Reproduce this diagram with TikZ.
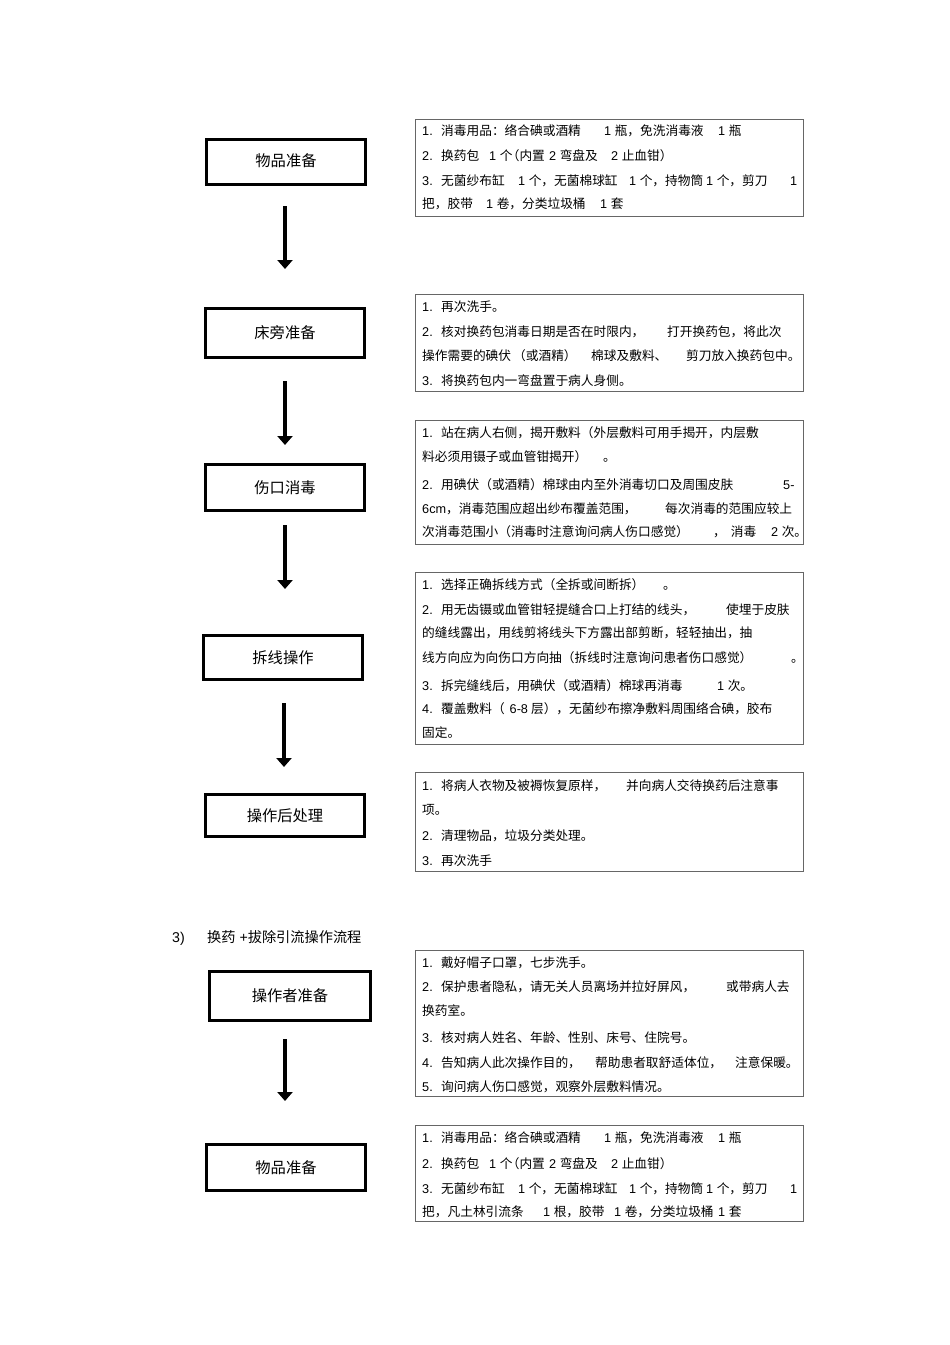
\documentclass[tikz,border=0pt]{standalone}
\usepackage{fontspec}
\setmainfont{Liberation Sans}
\newfontfamily\cjkf{Noto Sans CJK SC}
\XeTeXinterchartokenstate=1
\newXeTeXintercharclass\cjkcls
\newcount\mycc
\mycc="3000 \loop \XeTeXcharclass\mycc=\cjkcls \ifnum\mycc<"303F \advance\mycc 1 \repeat
\mycc="4E00 \loop \XeTeXcharclass\mycc=\cjkcls \ifnum\mycc<"9FFF \advance\mycc 1 \repeat
\mycc="FF00 \loop \XeTeXcharclass\mycc=\cjkcls \ifnum\mycc<"FFEF \advance\mycc 1 \repeat
\XeTeXinterchartoks 0 \cjkcls = {\begingroup\cjkf}
\XeTeXinterchartoks 4095 \cjkcls = {\begingroup\cjkf}
\XeTeXinterchartoks \cjkcls 0 = {\endgroup}
\XeTeXinterchartoks \cjkcls 4095 = {\endgroup}
\usetikzlibrary{arrows.meta}
\newcommand\mkseg[2]{\makebox[#1pt][l]{#2}}
\newcommand\nlp{\makebox[7pt][r]{（}}
\newcommand\nrp{\makebox[7pt][l]{）}}
\begin{document}
\begin{tikzpicture}[x=1pt,y=-1pt,
  lbox/.style={draw=black, line width=3pt, inner sep=0pt, font=\fontsize{15.3}{18}\selectfont},
  rbox/.style={draw=black!60, line width=1.4pt, inner sep=0pt},
  txt/.style={anchor=base west, inner sep=0pt, font=\fontsize{12.7}{15}\selectfont},
  head/.style={anchor=base west, inner sep=0pt, font=\fontsize{14.2}{17}\selectfont},
  arr/.style={line width=4.5pt, -{Triangle[width=15pt,length=9pt]}}]
\useasboundingbox (0,0) rectangle (950,1345);
\fill[white] (0,0) rectangle (950,1345);

% left boxes
\node[lbox, minimum width=159pt, minimum height=45pt] (L1) at (286,162) {\raisebox{3pt}{物品准备}};
\node[lbox, minimum width=159pt, minimum height=49pt] (L2) at (285,333) {床旁准备};
\node[lbox, minimum width=159pt, minimum height=46pt] (L3) at (285,487.5) {伤口消毒};
\node[lbox, minimum width=159pt, minimum height=44pt] (L4) at (283,657.5) {拆线操作};
\node[lbox, minimum width=159pt, minimum height=42pt] (L5) at (285,815.5) {操作后处理};
\node[lbox, minimum width=161pt, minimum height=49pt] (L6) at (290,996) {操作者准备};
\node[lbox, minimum width=159pt, minimum height=46pt] (L7) at (286,1167.5) {物品准备};

% arrows
\coordinate (a1s) at (285,206); \coordinate (a1e) at (285,269);
\coordinate (a2s) at (285,381); \coordinate (a2e) at (285,445);
\coordinate (a3s) at (285,525); \coordinate (a3e) at (285,589);
\coordinate (a4s) at (284,703); \coordinate (a4e) at (284,767);
\coordinate (a5s) at (285,1039); \coordinate (a5e) at (285,1101);
\draw[arr] (a1s) -- (a1e);
\draw[arr] (a2s) -- (a2e);
\draw[arr] (a3s) -- (a3e);
\draw[arr] (a4s) -- (a4e);
\draw[arr] (a5s) -- (a5e);

% right boxes
\node[rbox, minimum width=387.6pt, minimum height=96.6pt] (R1) at (609.5,168) {};
\node[rbox, minimum width=387.6pt, minimum height=96.6pt] (R2) at (609.5,343) {};
\node[rbox, minimum width=387.6pt, minimum height=123.6pt] (R3) at (609.5,482.5) {};
\node[rbox, minimum width=387.6pt, minimum height=171.6pt] (R4) at (609.5,658.5) {};
\node[rbox, minimum width=387.6pt, minimum height=98.6pt] (R5) at (609.5,822) {};
\node[rbox, minimum width=387.6pt, minimum height=145.6pt] (R6) at (609.5,1023.5) {};
\node[rbox, minimum width=387.6pt, minimum height=95.6pt] (R7) at (609.5,1173.5) {};

% box 1
\node[txt] (t11) at (422,135) {\mkseg{19}{1.}\mkseg{163}{消毒用品：络合碘或酒精}\mkseg{114}{1 瓶，免洗消毒液}1 瓶};
\node[txt] (t12) at (422,160.5) {\mkseg{19}{2.}\mkseg{48}{换药包}\mkseg{60}{1 个\nlp 内置}\mkseg{62}{2 弯盘及}2 止血钳\nrp};
\node[txt] (t13) at (422,185.5) {\mkseg{19}{3.}\mkseg{77}{无菌纱布缸}\mkseg{111}{1 个，无菌棉球缸}\mkseg{77}{1 个，持物筒}\mkseg{84}{1 个，剪刀}1};
\node[txt] (t14) at (422,208.5) {\mkseg{64}{把，胶带}\mkseg{114}{1 卷，分类垃圾桶}1 套};

% box 2
\node[txt] (t21) at (422,311) {\mkseg{19}{1.}再次洗手。};
\node[txt] (t22) at (422,336.5) {\mkseg{19}{2.}\mkseg{226}{核对换药包消毒日期是否在时限内，}打开换药包，将此次};
\node[txt] (t23) at (422,360) {\mkseg{91}{操作需要的碘伏}\mkseg{78}{（或酒精）}\mkseg{95}{棉球及敷料、}剪刀放入换药包中。};
\node[txt] (t24) at (422,385) {\mkseg{19}{3.}将换药包内一弯盘置于病人身侧。};

% box 3
\node[txt] (t31) at (422,437) {\mkseg{19}{1.}站在病人右侧，揭开敷料（外层敷料可用手揭开，内层敷};
\node[txt] (t32) at (422,461) {\mkseg{181}{料必须用镊子或血管钳揭开）}。};
\node[txt] (t33) at (422,489) {\mkseg{19}{2.}\mkseg{342}{用碘伏（或酒精）棉球由内至外消毒切口及周围皮肤}5-};
\node[txt] (t34) at (422,513) {\mkseg{243}{6cm，消毒范围应超出纱布覆盖范围，}每次消毒的范围应较上};
\node[txt] (t35) at (422,536) {\mkseg{291}{次消毒范围小（消毒时注意询问病人伤口感觉）}\mkseg{58}{，\hspace{5pt}消毒}2 次。};

% box 4
\node[txt] (t41) at (422,589.5) {\mkseg{19}{1.}\mkseg{222}{选择正确拆线方式（全拆或间断拆）}。};
\node[txt] (t42) at (422,614) {\mkseg{19}{2.}\mkseg{285}{用无齿镊或血管钳轻提缝合口上打结的线头，}使埋于皮肤};
\node[txt] (t43) at (422,637.5) {的缝线露出，用线剪将线头下方露出部剪断，轻轻抽出，抽};
\node[txt] (t44) at (422,662) {\mkseg{369}{线方向应为向伤口方向抽（拆线时注意询问患者伤口感觉）}。};
\node[txt] (t45) at (422,690) {\mkseg{19}{3.}\mkseg{276}{拆完缝线后，用碘伏（或酒精）棉球再消毒}1 次。};
\node[txt] (t46) at (422,713.5) {\mkseg{19}{4.}覆盖敷料（\hspace{5pt}6-8\hspace{3pt}层），无菌纱布擦净敷料周围络合碘，胶布};
\node[txt] (t47) at (422,737) {固定。};

% box 5
\node[txt] (t51) at (422,790) {\mkseg{19}{1.}\mkseg{185}{将病人衣物及被褥恢复原样，}并向病人交待换药后注意事};
\node[txt] (t52) at (422,814) {项。};
\node[txt] (t53) at (422,840) {\mkseg{19}{2.}清理物品，垃圾分类处理。};
\node[txt] (t54) at (422,865) {\mkseg{19}{3.}再次洗手};

% heading
\node[head] (h1) at (172,942) {\mkseg{35}{3)}换药 +拔除引流操作流程};

% box 6
\node[txt] (t61) at (422,967.5) {\mkseg{19}{1.}戴好帽子口罩，七步洗手。};
\node[txt] (t62) at (422,991.5) {\mkseg{19}{2.}\mkseg{285}{保护患者隐私，请无关人员离场并拉好屏风，}或带病人去};
\node[txt] (t63) at (422,1015) {换药室。};
\node[txt] (t64) at (422,1042) {\mkseg{19}{3.}核对病人姓名、年龄、性别、床号、住院号。};
\node[txt] (t65) at (422,1067.5) {\mkseg{19}{4.}\mkseg{154}{告知病人此次操作目的，}\mkseg{140}{帮助患者取舒适体位，}注意保暖。};
\node[txt] (t66) at (422,1091) {\mkseg{19}{5.}询问病人伤口感觉，观察外层敷料情况。};

% box 7
\node[txt] (t71) at (422,1142.5) {\mkseg{19}{1.}\mkseg{163}{消毒用品：络合碘或酒精}\mkseg{114}{1 瓶，免洗消毒液}1 瓶};
\node[txt] (t72) at (422,1168) {\mkseg{19}{2.}\mkseg{48}{换药包}\mkseg{60}{1 个\nlp 内置}\mkseg{62}{2 弯盘及}2 止血钳\nrp};
\node[txt] (t73) at (422,1193) {\mkseg{19}{3.}\mkseg{77}{无菌纱布缸}\mkseg{111}{1 个，无菌棉球缸}\mkseg{77}{1 个，持物筒}\mkseg{84}{1 个，剪刀}1};
\node[txt] (t74) at (422,1216) {\mkseg{121}{把，凡土林引流条}\mkseg{71}{1 根，胶带}\mkseg{104}{1 卷，分类垃圾桶}1 套};
\end{tikzpicture}
\end{document}
